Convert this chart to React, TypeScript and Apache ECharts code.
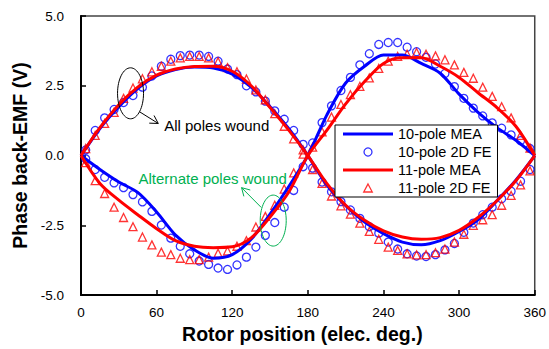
import React, { useEffect, useRef } from "react";
import * as echarts from "echarts";

// Rotor position samples (elec. deg.) for the analytical (MEA) curves
const rotorAngleMEA = [0, 15, 30, 45, 60, 75, 90, 105, 120, 135, 150, 165, 180, 195, 210, 225, 240, 255, 270, 285, 300, 315, 330, 345, 360];

// Analytical back-EMF (V)
const mea10All = [0, 0.97, 1.75, 2.4, 2.85, 3.08, 3.17, 3.14, 2.92, 2.45, 1.75, 0.95, 0, -1.05, -1.8, -2.38, -2.8, -3.1, -3.2, -3.05, -2.72, -2.3, -1.62, -0.88, 0];
const mea11All = [0, 1.0, 1.82, 2.45, 2.88, 3.1, 3.19, 3.2, 3.02, 2.5, 1.72, 0.9, 0, -1.0, -1.78, -2.32, -2.7, -2.92, -3.0, -2.94, -2.68, -2.22, -1.62, -0.9, 0];
const mea10Alt = [0, -0.5, -0.95, -1.32, -2.02, -2.85, -3.38, -3.68, -3.55, -3.0, -2.1, -1.1, 0, 1.45, 2.6, 3.2, 3.6, 3.6, 3.3, 2.95, 2.2, 1.55, 1.0, 0.55, 0];
const mea11Alt = [0, -1.0, -1.6, -2.12, -2.62, -3.05, -3.25, -3.3, -3.27, -2.95, -2.2, -1.3, 0, 0.9, 1.85, 2.65, 3.3, 3.5, 3.5, 3.2, 2.8, 2.25, 1.72, 1.05, 0];

// Rotor position samples (elec. deg.) for the 2D finite-element results
const rotorAngleFE = [
  3.75, 11.25, 18.75, 26.25, 33.75, 41.25, 48.75, 56.25, 63.75, 71.25, 78.75, 86.25,
  93.75, 101.25, 108.75, 116.25, 123.75, 131.25, 138.75, 146.25, 153.75, 161.25, 168.75, 176.25,
  183.75, 191.25, 198.75, 206.25, 213.75, 221.25, 228.75, 236.25, 243.75, 251.25, 258.75, 266.25,
  273.75, 281.25, 288.75, 296.25, 303.75, 311.25, 318.75, 326.25, 333.75, 341.25, 348.75, 356.25,
];

// 2D FE back-EMF (V)
const fe10All = [0.2, 0.9, 1.35, 1.65, 1.9, 2.15, 2.45, 2.85, 3.2, 3.45, 3.58, 3.6, 3.6, 3.55, 3.38, 3.1, 2.9, 2.5, 2.28, 1.95, 1.6, 1.3, 0.9, 0.4, -0.45, -0.95, -1.3, -1.65, -1.95, -2.25, -2.55, -2.78, -3.1, -3.35, -3.52, -3.6, -3.62, -3.55, -3.38, -3.15, -2.75, -2.42, -2.12, -1.85, -1.55, -1.28, -0.92, -0.5];
const fe11All = [0.25, 0.72, 1.15, 1.55, 2.05, 2.42, 2.75, 3.0, 3.2, 3.38, 3.5, 3.55, 3.55, 3.5, 3.36, 3.15, 3.0, 2.74, 2.35, 2.0, 1.5, 1.05, 0.6, 0.2, -0.5, -1.0, -1.45, -1.8, -2.1, -2.42, -2.72, -3.0, -3.28, -3.4, -3.52, -3.56, -3.55, -3.48, -3.35, -3.1, -2.82, -2.5, -2.3, -2.12, -1.78, -1.43, -1.05, -0.55];
const fe10Alt = [-0.12, -0.5, -0.78, -0.98, -1.15, -1.4, -1.66, -2.0, -2.49, -2.96, -3.25, -3.52, -3.78, -3.9, -4.03, -4.08, -3.92, -3.64, -3.28, -2.86, -2.4, -1.85, -1.25, -0.4, 0.45, 1.18, 1.78, 2.33, 2.8, 3.25, 3.65, 3.98, 4.05, 4.05, 3.88, 3.72, 3.52, 3.28, 2.94, 2.47, 2.05, 1.7, 1.42, 1.17, 0.98, 0.74, 0.53, 0.25];
const fe11Alt = [-0.25, -0.9, -1.36, -1.85, -2.22, -2.55, -2.92, -3.2, -3.46, -3.55, -3.68, -3.73, -3.73, -3.64, -3.5, -3.42, -3.25, -3.05, -2.56, -2.18, -1.78, -1.2, -0.62, 0.05, 0.3, 0.85, 1.38, 1.83, 2.18, 2.48, 2.78, 3.12, 3.38, 3.55, 3.63, 3.69, 3.63, 3.57, 3.43, 3.25, 2.98, 2.77, 2.45, 2.12, 1.75, 1.35, 0.72, 0.27];

const BLUE = "#0000ff";
const RED = "#ff0000";
const GREEN = "#00b050";
const FONT = 'Arial, "Liberation Sans", sans-serif';

// Legend swatches, kept in proportion inside the 50x8 icon box
const LINE_ICON = "path://M0,0L50,0L50,3L0,3Z";
const TRIANGLE_ICON = "path://M4,0L8,7.5L0,7.5Z";

const legendItems = [
  { name: "10-pole MEA", icon: LINE_ICON },
  { name: "10-pole 2D FE", icon: "circle" },
  { name: "11-pole MEA", icon: LINE_ICON },
  { name: "11-pole 2D FE", icon: TRIANGLE_ICON },
];

const pairs = (xs: number[], ys: number[]) => xs.map((x, i) => [x, ys[i]]);

const meaSeries = (name: string, color: string, ys: number[]) => ({
  type: "line",
  name,
  data: pairs(rotorAngleMEA, ys),
  symbol: "none",
  smooth: 0.3,
  lineStyle: { color, width: 3 },
  itemStyle: { color },
});

const feSeries = (name: string, color: string, symbol: string, ys: number[]) => ({
  type: "scatter",
  name,
  data: pairs(rotorAngleFE, ys),
  symbol,
  symbolSize: 8,
  itemStyle: { color: "transparent", borderColor: color, borderWidth: 1.3 },
});

export default function App() {
  const ref = useRef<HTMLDivElement>(null);

  useEffect(() => {
    if (!ref.current) return;
    const chart = echarts.init(ref.current, null, { renderer: "svg" });

    chart.setOption({
      animation: false,
      backgroundColor: "#fff",
      grid: {
        left: 81,
        right: 10,
        top: 16,
        bottom: 50,
        show: true,
        borderColor: "#444",
        borderWidth: 1.5,
      },
      legend: {
        data: legendItems,
        orient: "vertical",
        left: 335,
        top: 125,
        padding: [1.5, 6, 1.5, 8],
        itemGap: 3,
        itemWidth: 50,
        itemHeight: 8,
        symbolKeepAspect: true,
        selectedMode: false,
        backgroundColor: "#fff",
        borderColor: "#000",
        borderWidth: 1,
        textStyle: { fontFamily: FONT, fontSize: 14.5, color: "#000" },
        itemStyle: { borderWidth: 1.3 },
      },
      xAxis: {
        type: "value",
        min: 0,
        max: 360,
        interval: 60,
        name: "Rotor position (elec. deg.)",
        nameLocation: "middle",
        nameGap: 27,
        nameTextStyle: {
          fontFamily: FONT,
          fontSize: 19.5,
          fontWeight: "bold",
          color: "#000",
          padding: [0, 11, 0, 0],
        },
        axisLine: { onZero: false, lineStyle: { color: "#000", width: 2 } },
        axisTick: { inside: true, length: 5, lineStyle: { color: "#000", width: 1.5 } },
        axisLabel: { fontFamily: FONT, fontSize: 13.5, color: "#000", margin: 10 },
        splitLine: { show: false },
      },
      yAxis: {
        type: "value",
        min: -5,
        max: 5,
        interval: 2.5,
        name: "Phase back-EMF (V)",
        nameLocation: "middle",
        nameGap: 46,
        nameTextStyle: { fontFamily: FONT, fontSize: 19.5, fontWeight: "bold", color: "#000" },
        axisLine: { onZero: false, lineStyle: { color: "#000", width: 2 } },
        axisTick: { inside: true, length: 5, lineStyle: { color: "#000", width: 1.5 } },
        axisLabel: {
          fontFamily: FONT,
          fontSize: 13.5,
          color: "#000",
          margin: 17,
          formatter: (v: number) => v.toFixed(1),
        },
        splitLine: { show: false },
      },
      series: [
        meaSeries("10-pole MEA", BLUE, mea10All),
        meaSeries("10-pole MEA", BLUE, mea10Alt),
        feSeries("10-pole 2D FE", BLUE, "circle", fe10All),
        feSeries("10-pole 2D FE", BLUE, "circle", fe10Alt),
        meaSeries("11-pole MEA", RED, mea11All),
        meaSeries("11-pole MEA", RED, mea11Alt),
        feSeries("11-pole 2D FE", RED, "triangle", fe11All),
        feSeries("11-pole 2D FE", RED, "triangle", fe11Alt),
      ],
    });

    // Annotations anchored to data coordinates
    const toPx = (p: number[]) => chart.convertToPixel({ gridIndex: 0 }, p) as number[];

    const arrowHead = (from: number[], tip: number[], color: string) => {
      const ang = Math.atan2(tip[1] - from[1], tip[0] - from[0]);
      const len = 9;
      const spread = (30 * Math.PI) / 180;
      const w1 = [tip[0] - len * Math.cos(ang - spread), tip[1] - len * Math.sin(ang - spread)];
      const w2 = [tip[0] - len * Math.cos(ang + spread), tip[1] - len * Math.sin(ang + spread)];
      return {
        type: "polyline",
        shape: { points: [w1, tip, w2] },
        style: { fill: "none", stroke: color, lineWidth: 1 },
        z: 20,
      };
    };

    const annotate = (
      center: number[],
      lineFrom: number[],
      lineTo: number[],
      textPos: number[],
      text: string,
      color: string,
      fontSize: number
    ) => {
      const c = toPx(center);
      const a = toPx(lineFrom);
      const b = toPx(lineTo);
      const t = toPx(textPos);
      return [
        {
          type: "ellipse",
          shape: { cx: c[0], cy: c[1], rx: 13, ry: 25.5 },
          style: { fill: "none", stroke: color, lineWidth: 1 },
          z: 20,
        },
        {
          type: "line",
          shape: { x1: a[0], y1: a[1], x2: b[0], y2: b[1] },
          style: { stroke: color, lineWidth: 1 },
          z: 20,
        },
        arrowHead(a, b, color),
        {
          type: "text",
          x: t[0],
          y: t[1],
          style: {
            text,
            fill: color,
            font: `${fontSize}px ${FONT}`,
            textAlign: "left",
            textVerticalAlign: "middle",
            align: "left",
            verticalAlign: "middle",
          },
          z: 20,
        },
      ];
    };

    chart.setOption({
      graphic: [
        ...annotate([39.3, 2.23], [46.4, 1.57], [61.3, 1.15], [66, 1.09], "All poles wound", "#000", 15),
        ...annotate([152.5, -2.33], [143, -1.86], [127.4, -1.15], [45.6, -0.83], "Alternate poles wound", GREEN, 15),
      ],
    });

    return () => chart.dispose();
  }, []);

  return (
    <div
      ref={ref}
      style={{ position: "absolute", left: 0, top: 0, width: 549, height: 349 }}
    />
  );
}
